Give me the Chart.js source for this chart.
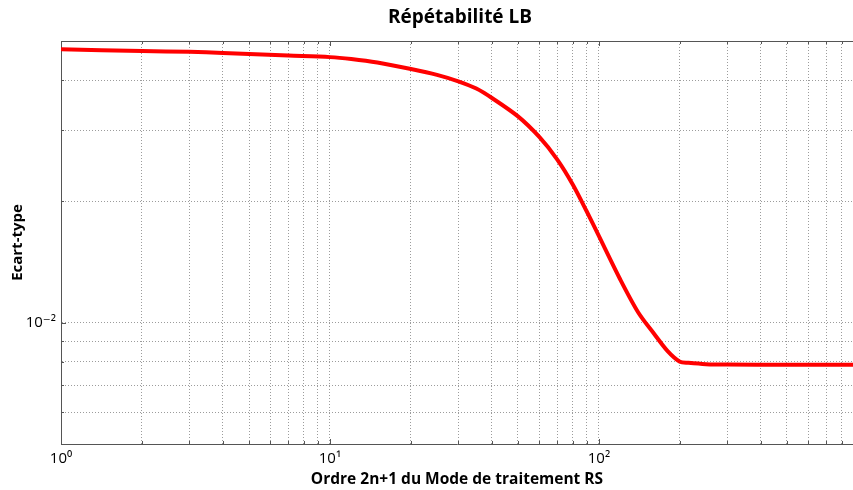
<!DOCTYPE html>
<html>
<head>
<meta charset="utf-8">
<title>Répétabilité LB</title>
<script src="https://cdn.jsdelivr.net/npm/chart.js@4.4.1/dist/chart.umd.min.js"></script>
<style>
  html, body { margin: 0; padding: 0; background: #fff; }
  #wrap { width: 853px; height: 490px; position: relative; }
</style>
</head>
<body>
<div id="wrap"><canvas id="rep"></canvas></div>
<script>
// ordre 2n+1 du mode de traitement RS
const ordres = [1, 2, 3, 4, 5, 7, 10, 12, 15, 20, 25, 30, 35, 40, 50, 60, 70, 80, 90, 100, 120, 140, 160, 180, 200, 215, 250, 300, 500, 880];
// ecart-type mesuré
const ecarts = [0.0477, 0.0472, 0.0470, 0.0467, 0.0464, 0.0460, 0.0456, 0.0451, 0.0442, 0.0426, 0.0412, 0.0397, 0.0381,
  0.0361, 0.0325, 0.0289, 0.0254, 0.0220, 0.0189, 0.0164, 0.0128, 0.0106, 0.0094, 0.0085, 0.0080, 0.00795, 0.00789,
  0.00787, 0.00786, 0.00786];

// graduations log (majeures + mineures)
const xTicks = [1, 2, 3, 4, 5, 6, 7, 8, 9, 10, 20, 30, 40, 50, 60, 70, 80, 90, 100, 200, 300, 400, 500, 600, 700, 800];
const yTicks = [0.005, 0.006, 0.007, 0.008, 0.009, 0.01, 0.02, 0.03, 0.04, 0.05];
const xLabels = { 1: '10\u2070', 10: '10\u00b9', 100: '10\u00b2' };
const yLabels = { 0.01: '10\u207b\u00b2' };
const titre = 'Répétabilité LB';

Chart.defaults.font.family = "'Open Sans', 'DejaVu Sans', sans-serif";
Chart.defaults.color = '#000';

const gridCol = '#9c9c9c';
const axisCol = '#555';

// petites graduations vers l'intérieur, bord haut et titre centré sur les axes
const cadre = {
  id: 'cadre',
  beforeDatasetsDraw(chart) {
    const { ctx, chartArea: a, scales: { x, y } } = chart;
    ctx.save();
    ctx.strokeStyle = axisCol;
    ctx.lineWidth = 1;
    ctx.beginPath();
    ctx.moveTo(a.left, a.top + 0.5);
    ctx.lineTo(a.right, a.top + 0.5);
    xTicks.forEach(v => {
      const px = Math.round(x.getPixelForValue(v)) + 0.5;
      const len = xLabels[v] ? 5 : 3;
      ctx.moveTo(px, a.bottom);
      ctx.lineTo(px, a.bottom - len);
      ctx.moveTo(px, a.top);
      ctx.lineTo(px, a.top + len);
    });
    yTicks.forEach(v => {
      const py = Math.round(y.getPixelForValue(v)) + 0.5;
      const len = yLabels[v] ? 5 : 3;
      ctx.moveTo(a.left, py);
      ctx.lineTo(a.left + len, py);
    });
    ctx.stroke();

    ctx.fillStyle = '#000';
    ctx.font = "bold 19px 'Open Sans', sans-serif";
    ctx.textAlign = 'center';
    ctx.textBaseline = 'middle';
    ctx.fillText(titre, (a.left + a.right) / 2 + 3, 18);
    ctx.restore();
  }
};

new Chart(document.getElementById('rep'), {
  type: 'line',
  data: {
    datasets: [{
      data: ordres.map((o, i) => ({ x: o, y: ecarts[i] })),
      borderColor: '#ff0000',
      borderWidth: 4,
      pointRadius: 0,
      tension: 0.3,
      fill: false
    }]
  },
  options: {
    responsive: true,
    maintainAspectRatio: false,
    animation: false,
    layout: { padding: { left: 0, right: 0, top: 41, bottom: 0 } },
    plugins: {
      legend: { display: false },
      tooltip: { enabled: false },
      title: { display: false }
    },
    scales: {
      x: {
        type: 'logarithmic',
        min: 1,
        max: 880,
        afterBuildTicks: s => { s.ticks = xTicks.map(v => ({ value: v })); },
        afterFit: s => { s.height = 46; },
        ticks: {
          autoSkip: false,
          maxRotation: 0,
          padding: 6,
          font: { size: 15 },
          callback: v => xLabels[v] || ''
        },
        grid: { color: gridCol, drawTicks: false, lineWidth: 1 },
        border: { display: true, color: axisCol, width: 1, dash: [1, 2] },
        title: {
          display: true,
          text: 'Ordre 2n+1 du Mode de traitement RS',
          font: { size: 15.5, weight: 'bold' },
          padding: { top: 0, bottom: 1 }
        }
      },
      y: {
        type: 'logarithmic',
        min: 0.005,
        max: 0.05,
        afterBuildTicks: s => { s.ticks = yTicks.map(v => ({ value: v })); },
        afterFit: s => { s.width = 61; },
        ticks: {
          autoSkip: false,
          padding: 5,
          font: { size: 15 },
          callback: v => yLabels[v] || ''
        },
        grid: { color: gridCol, drawTicks: false, lineWidth: 1 },
        border: { display: true, color: axisCol, width: 1, dash: [1, 2] },
        title: {
          display: true,
          text: 'Ecart-type',
          font: { size: 15, weight: 'bold' },
          padding: { top: 9, bottom: 0 }
        }
      }
    }
  },
  plugins: [cadre]
});
</script>
</body>
</html>
